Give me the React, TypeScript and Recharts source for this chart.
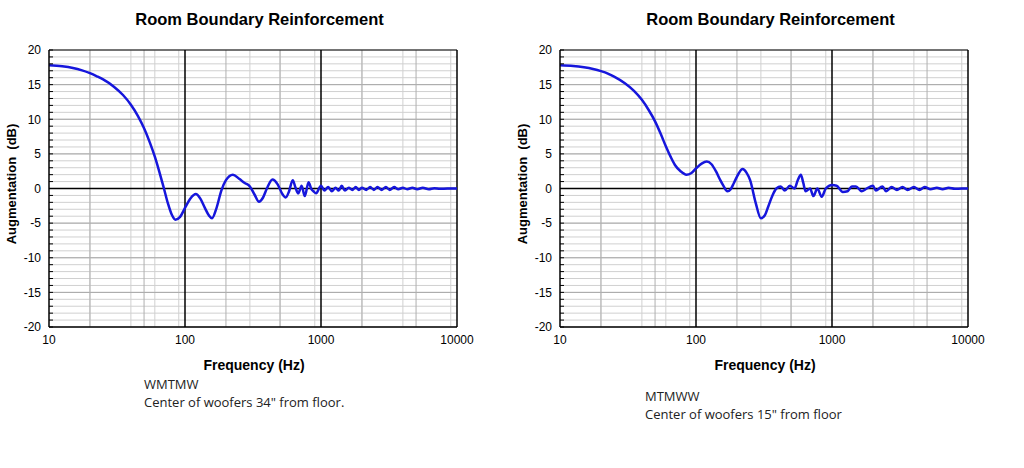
import React from "react";
import {
  LineChart,
  Line,
  XAxis,
  YAxis,
  CartesianGrid,
  ReferenceLine,
} from "recharts";

// WMTMW, woofers 34" from floor
const freqA = [
  10, 12.5, 15, 17.5, 20, 22.5, 25, 30, 35, 40, 45, 50, 55, 60, 65, 70, 75, 80,
  85, 92, 100, 110, 120, 130, 140, 150, 158, 170, 185, 200, 225, 250, 275, 300,
  325, 350, 375, 400, 440, 480, 520, 550, 580, 620, 650, 680, 720, 760, 810,
  850, 880, 920, 1000, 1060, 1130, 1200, 1280, 1350, 1420, 1500, 1600, 1700,
  1800, 1900, 2000, 2150, 2300, 2450, 2600, 2800, 3000, 3200, 3450, 3700, 4000,
  4300, 4700, 5100, 5600, 6200, 6800, 7500, 8500, 10000,
];
const gainA = [
  17.8, 17.65, 17.4, 17.05, 16.65, 16.2, 15.75, 14.7, 13.5, 12.1, 10.5, 8.7,
  6.7, 4.6, 2.3, 0.0, -2.2, -3.8, -4.5, -4.1, -2.8, -1.4, -0.8, -1.5, -2.8,
  -3.9, -4.3, -2.9, -0.3, 1.2, 2.0, 1.4, 0.8, 0.3, -0.9, -1.9, -1.3, 0.0, 1.3,
  0.6, -0.8, -1.3, -0.5, 1.2, 0.1, -0.7, 0.4, -1.1, 0.9, -0.1, -0.4, -0.7, 0.4,
  -0.3, 0.2, -0.4, 0.1, -0.3, 0.4, -0.3, 0.1, -0.2, 0.2, -0.2, 0.1, -0.2, 0.2,
  -0.2, 0.2, -0.2, 0.2, -0.2, 0.2, -0.1, 0.1, -0.1, 0.1, -0.1, 0.1, -0.1, 0.05,
  -0.05, 0, 0,
];

// MTMWW, woofers 15" from floor
const freqB = [
  10, 12.5, 15, 17.5, 20, 22.5, 25, 30, 35, 40, 45, 50, 55, 60, 65, 70, 77, 85,
  92, 100, 110, 120, 130, 140, 150, 160, 170, 180, 190, 205, 220, 235, 250, 275,
  300, 320, 340, 365, 390, 420, 450, 490, 530, 560, 590, 615, 640, 690, 730,
  780, 840, 900, 1000, 1080, 1200, 1300, 1400, 1500, 1650, 1800, 2000, 2100,
  2350, 2500, 2750, 3000, 3300, 3600, 4000, 4400, 4800, 5300, 5900, 6500, 7200,
  8000, 9000, 10000,
];
const gainB = [
  17.8, 17.7, 17.5, 17.25, 16.95, 16.6, 16.15, 15.2, 14.1, 12.8, 11.3, 9.7,
  7.9, 6.1, 4.6, 3.4, 2.5, 2.0, 2.2, 2.9, 3.6, 3.9, 3.5, 2.5, 1.3, 0.3, -0.4,
  -0.1, 0.8, 2.1, 2.8, 2.3, 1.2, -2.1, -4.3, -3.9, -2.6, -1.0, 0.0, 0.3, -0.3,
  0.4, 0.0, 1.2, 2.0, 0.8, -0.4, 0.0, -1.1, 0.0, -1.2, 0.0, 0.5, 0.4, -0.5,
  -0.4, 0.3, 0.3, -0.4, 0.0, 0.4, -0.3, 0.3, -0.4, 0.2, -0.2, 0.2, -0.2, 0.2,
  -0.2, 0.2, -0.1, 0.1, -0.1, 0.1, -0.05, 0, 0,
];

const xTicks = [10, 100, 1000, 10000];
const yTicks = Array.from({ length: 41 }, (_, i) => i - 20);
const minorFreqs = [10, 100, 1000].flatMap((d) =>
  [2, 3, 4, 5, 6, 7, 8, 9].map((m) => m * d)
);
const midFreqs = [20, 50, 200, 500, 2000, 5000];
const fiveDb = [-15, -10, -5, 5, 10, 15];

const blue = "#1616dc";
const tickStyle = { fontFamily: "Liberation Sans", fontSize: 12, fill: "#000" };

const Panel = ({
  freq,
  gain,
  left,
  model,
  note,
  noteLeft,
  noteTop,
}: {
  freq: number[];
  gain: number[];
  left: number;
  model: string;
  note: string;
  noteLeft: number;
  noteTop: number;
}) => {
  const data = freq.map((f, i) => ({ f, g: gain[i] }));
  return (
    <div style={{ position: "absolute", left, top: 0, width: 512, height: 468 }}>
      <div
        style={{
          position: "absolute",
          left: 49,
          width: 421,
          top: 10,
          textAlign: "center",
          whiteSpace: "nowrap",
          fontFamily: "Liberation Sans",
          fontWeight: "bold",
          fontSize: 16.5,
        }}
      >
        Room Boundary Reinforcement
      </div>
      <div
        style={{
          position: "absolute",
          left: 11,
          top: 184,
          transform: "translate(-50%, -50%) rotate(-90deg)",
          whiteSpace: "pre",
          fontFamily: "Liberation Sans",
          fontWeight: "bold",
          fontSize: 13,
        }}
      >
        {"Augmentation  (dB)"}
      </div>
      <div
        style={{
          position: "absolute",
          left: 49,
          width: 410,
          top: 357,
          textAlign: "center",
          fontFamily: "Liberation Sans",
          fontWeight: "bold",
          fontSize: 14,
        }}
      >
        Frequency (Hz)
      </div>
      <div
        style={{
          position: "absolute",
          left: noteLeft,
          top: noteTop,
          fontFamily: "Open Sans",
          fontSize: 13,
          lineHeight: "18px",
          color: "#222",
        }}
      >
        {model}
        <br />
        {note}
      </div>
      <div style={{ position: "absolute", left: 0, top: 0 }}>
        <LineChart
          width={512}
          height={360}
          data={data}
          margin={{ top: 50, right: 55, left: 0, bottom: 13 }}
        >
          <CartesianGrid
            stroke="#d0d0d0"
            horizontalValues={yTicks}
            verticalValues={minorFreqs}
          />
          {fiveDb.map((v) => (
            <ReferenceLine key={"h" + v} y={v} stroke="#a8a8a8" />
          ))}
          {midFreqs.map((v) => (
            <ReferenceLine key={"v" + v} x={v} stroke="#b0b0b0" />
          ))}
          <ReferenceLine x={100} stroke="#000" strokeWidth={1.5} />
          <ReferenceLine x={1000} stroke="#000" strokeWidth={1.5} />
          <ReferenceLine x={10000} stroke="#000" strokeWidth={1.5} />
          <ReferenceLine y={20} stroke="#000" />
          <ReferenceLine y={0} stroke="#000" strokeWidth={1.5} />
          <XAxis
            dataKey="f"
            type="number"
            scale="log"
            domain={[10, 10000]}
            ticks={xTicks}
            allowDataOverflow
            tickLine={false}
            axisLine={{ stroke: "#000", strokeWidth: 1.5 }}
            tick={tickStyle}
            height={20}
          />
          <YAxis
            type="number"
            domain={[-20, 20]}
            ticks={yTicks}
            interval={0}
            width={49}
            tickSize={-4}
            tickMargin={12}
            tickFormatter={(v: number) => (v % 5 === 0 ? String(v) : "")}
            tickLine={{ stroke: "#000" }}
            axisLine={{ stroke: "#000", strokeWidth: 1.5 }}
            tick={tickStyle}
          />
          <Line
            type="monotone"
            dataKey="g"
            stroke={blue}
            strokeWidth={2.5}
            dot={false}
            isAnimationActive={false}
          />
        </LineChart>
      </div>
    </div>
  );
};

export default function App() {
  return (
    <div
      style={{
        position: "absolute",
        left: 0,
        top: 0,
        width: 1024,
        height: 468,
        background: "#fff",
      }}
    >
      <Panel
        freq={freqA}
        gain={gainA}
        left={0}
        model="WMTMW"
        note={'Center of woofers 34" from floor.'}
        noteLeft={144}
        noteTop={375}
      />
      <Panel
        freq={freqB}
        gain={gainB}
        left={511}
        model="MTMWW"
        note={'Center of woofers 15" from floor'}
        noteLeft={134}
        noteTop={387}
      />
    </div>
  );
}
